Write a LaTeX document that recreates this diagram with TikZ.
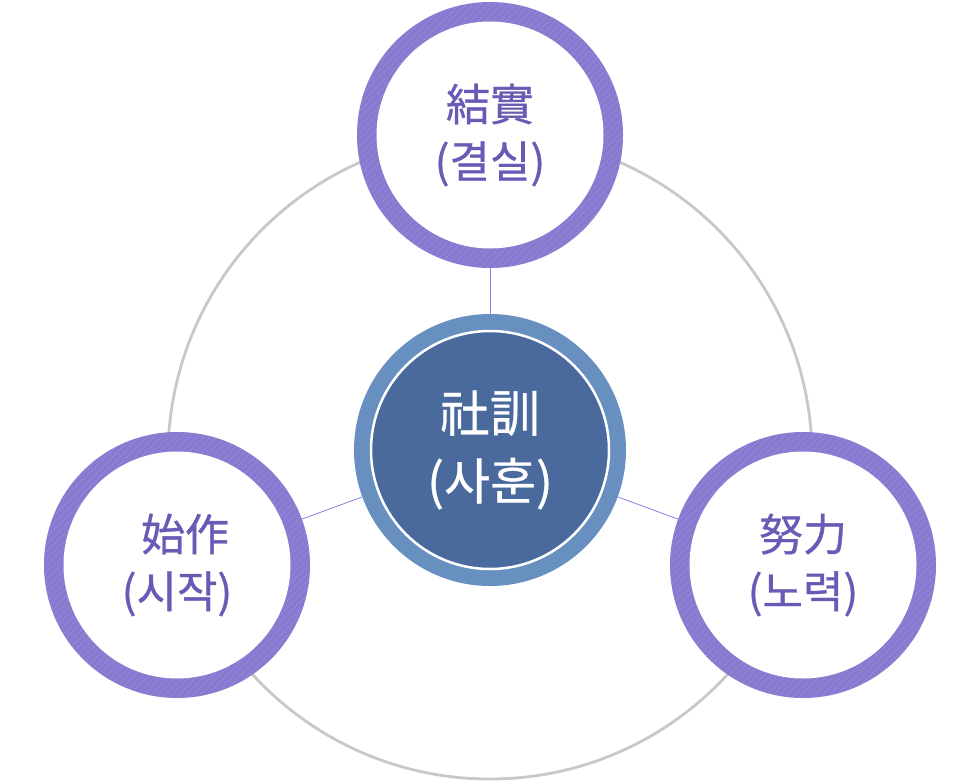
\documentclass[tikz,border=0pt]{standalone}
\usepackage{fontspec}
\setmainfont{Noto Sans CJK KR}[FakeBold=0.7]
\usetikzlibrary{positioning, calc, patterns.meta}

\definecolor{ringpurple}{HTML}{887AD0}
\definecolor{textpurple}{HTML}{6A5AB5}
\definecolor{hubblue}{HTML}{6790C0}
\definecolor{hubdark}{HTML}{4A699D}
\definecolor{linkpurple}{HTML}{8A7EE0}
\definecolor{orbitgray}{HTML}{C8C8C8}

\begin{document}
\begin{tikzpicture}[x=1pt, y=-1pt,
  ring/.style={circle, minimum size=266pt, inner sep=0pt, fill=ringpurple, text=textpurple, align=center, font=\fontsize{44}{57}\selectfont,
    path picture={\fill[pattern={Lines[angle=45, distance=5pt, line width=0.35pt]}, pattern color=white!18!ringpurple] (path picture bounding box.south west) rectangle (path picture bounding box.north east);
                  \fill[white] (path picture bounding box.center) circle (113.5pt);}},
  hub/.style={circle, minimum size=272pt, inner sep=0pt, fill=hubblue, text=white, align=center, font=\fontsize{50}{68}\selectfont,
    path picture={\draw[white, line width=2.5pt, fill=hubdark] (path picture bounding box.center) circle (119pt);}},
  link/.style={linkpurple, line width=0.8pt},
  orbitline/.style={orbitgray, line width=2.8pt}]
\useasboundingbox (0,0) rectangle (980,782);

\coordinate (orbit) at (490,457);
\draw[orbitline] (orbit) circle (322);

\node[hub](sahun) at (490,450) {社訓\\(사훈)};
\node[ring](gyeolsil) at (490,135) {結實\\(결실)};
\node[ring](sijak) at (177,565) {\hspace*{16pt}始作\\(시작)};
\node[ring](noryeok) at (803,565) {努力\\(노력)};

\draw[link] (sahun) -- (gyeolsil);
\draw[link] (sahun) -- (sijak);
\draw[link] (sahun) -- (noryeok);
\end{tikzpicture}
\end{document}
